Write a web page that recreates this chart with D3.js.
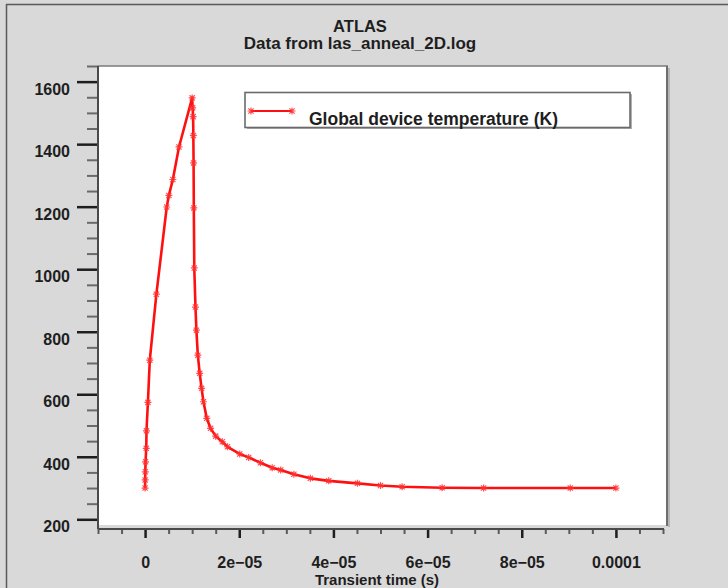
<!DOCTYPE html>
<html>
<head>
<meta charset="utf-8">
<script src="https://cdn.jsdelivr.net/npm/d3@7"></script>
<style>
  html, body { margin: 0; padding: 0; background: #d9d9d9; }
  svg { display: block; }
  text { font-family: "Liberation Sans", Arial, Helvetica, sans-serif; font-weight: bold; fill: #1e1e1e; }
</style>
</head>
<body>
<svg id="chart" width="728" height="588"></svg>
<script>
// Transient time (s) and global device temperature (K) from las_anneal_2D.log
const timeS = [
  0, 2e-8, 5e-8, 1e-7, 2.5e-7, 3e-7, 6e-7, 1e-6, 2.4e-6, 4.6e-6, 5.05e-6, 5.9e-6, 7.2e-6, 1e-5,
  1.01e-5, 1.02e-5, 1.025e-5, 1.03e-5, 1.035e-5, 1.045e-5, 1.07e-5, 1.09e-5, 1.12e-5, 1.16e-5,
  1.2e-5, 1.24e-5, 1.31e-5, 1.39e-5, 1.5e-5, 1.64e-5, 1.75e-5, 2.01e-5, 2.2e-5, 2.45e-5,
  2.7e-5, 2.88e-5, 3.16e-5, 3.51e-5, 3.9e-5, 4.51e-5, 5.0e-5, 5.46e-5, 6.31e-5, 7.19e-5,
  9.03e-5, 1.0e-4
];
const tempK = [
  300, 326, 352, 384, 427, 483, 574, 709, 920, 1199, 1236, 1287, 1391, 1548,
  1516, 1488, 1428, 1340, 1196, 1004, 879, 805, 725, 667,
  619, 576, 523, 491, 466, 448, 432, 409, 398, 381,
  365, 358, 344, 331, 323, 315, 308, 304, 301, 300,
  300, 300
];

const xMajorTicks = [0, 2e-5, 4e-5, 6e-5, 8e-5, 1e-4];
const xTickLabels = ["0", "2e\u221205", "4e\u221205", "6e\u221205", "8e\u221205", "0.0001"];
const yMajorTicks = [200, 400, 600, 800, 1000, 1200, 1400, 1600];
const yTickLabels = ["200", "400", "600", "800", "1000", "1200", "1400", "1600"];

const titleText = "ATLAS";
const subtitleText = "Data from las_anneal_2D.log";
const xAxisTitle = "Transient time (s)";
const seriesName = "Global device temperature (K)";

const svg = d3.select("#chart");
const W = 728, H = 588;
const plot = { left: 98, right: 667, top: 66, bottom: 525, axisY: 529 };

const x = d3.scaleLinear().domain([-1e-5, 1.1e-4]).range([98, 663]);
const y = d3.scaleLinear().domain([200, 1650]).range([519.3, 66]);

// window background and frame
svg.append("rect").attr("width", W).attr("height", H).attr("fill", "#d9d9d9");
svg.append("line").attr("x1", 6).attr("x2", W).attr("y1", 4.5).attr("y2", 4.5)
  .attr("stroke", "#5a5a5a").attr("stroke-width", 1.5);
svg.append("line").attr("x1", 6.5).attr("x2", 6.5).attr("y1", 4).attr("y2", H)
  .attr("stroke", "#5a5a5a").attr("stroke-width", 1.5);

// plotting area
svg.append("rect").attr("x", plot.left).attr("y", plot.top)
  .attr("width", plot.right - plot.left).attr("height", plot.bottom - plot.top)
  .attr("fill", "#ffffff");
svg.append("line").attr("x1", plot.left).attr("x2", plot.right + 1).attr("y1", plot.top).attr("y2", plot.top)
  .attr("stroke", "#7a7a7a").attr("stroke-width", 1.5);
svg.append("line").attr("x1", plot.right).attr("x2", plot.right).attr("y1", plot.top).attr("y2", plot.bottom + 1)
  .attr("stroke", "#6e6e6e").attr("stroke-width", 2);
svg.append("line").attr("x1", plot.right + 2).attr("x2", plot.right + 2).attr("y1", plot.top + 2).attr("y2", plot.bottom + 2)
  .attr("stroke", "#a8a8a8").attr("stroke-width", 1.5);

// titles
svg.append("text").attr("x", 360).attr("y", 32).attr("text-anchor", "middle")
  .style("font-size", "16.5px").text(titleText);
svg.append("text").attr("x", 360).attr("y", 48.5).attr("text-anchor", "middle")
  .style("font-size", "17px").text(subtitleText);

// y axis: minor ticks every 50 K, major every 200 K
const yMinor = d3.range(200, 1651, 50).filter(v => v % 200 !== 0);
const gyMinor = svg.append("g").attr("transform", `translate(${plot.left},0)`)
  .call(d3.axisLeft(y).tickValues(yMinor).tickSize(11).tickFormat(""));
gyMinor.select(".domain").remove();
gyMinor.selectAll(".tick line").attr("stroke", "#6a6a6a").attr("stroke-width", 2);

const gyMajor = svg.append("g").attr("transform", `translate(${plot.left},0)`)
  .call(d3.axisLeft(y).tickValues(yMajorTicks).tickSize(21).tickPadding(7)
    .tickFormat((d, i) => yTickLabels[i]));
gyMajor.select(".domain").remove();
gyMajor.selectAll(".tick line").attr("stroke", "#1e1e1e").attr("stroke-width", 2.5);
gyMajor.selectAll(".tick text").attr("dy", "12.5").style("font-size", "16px");

svg.append("line").attr("x1", plot.left).attr("x2", plot.left).attr("y1", plot.top).attr("y2", plot.axisY)
  .attr("stroke", "#4a4a4a").attr("stroke-width", 2);

// x axis: minor ticks every 5e-6 s, major every 2e-5 s
const xMinor = d3.range(-2, 23).map(k => k * 5e-6).filter((v, i) => (i - 2) % 4 !== 0);
const gxMinor = svg.append("g").attr("transform", `translate(0,${plot.axisY})`)
  .call(d3.axisBottom(x).tickValues(xMinor).tickSize(5).tickFormat(""));
gxMinor.select(".domain").remove();
gxMinor.selectAll(".tick line").attr("stroke", "#5a5a5a").attr("stroke-width", 2);

const gxMajor = svg.append("g").attr("transform", `translate(0,${plot.axisY})`)
  .call(d3.axisBottom(x).tickValues(xMajorTicks).tickSize(9)
    .tickFormat((d, i) => xTickLabels[i]));
gxMajor.select(".domain").remove();
gxMajor.selectAll(".tick line").attr("stroke", "#1e1e1e").attr("stroke-width", 2.5);
gxMajor.selectAll(".tick text").attr("y", 38.5).attr("dy", 0).style("font-size", "16px");

svg.append("line").attr("x1", plot.left).attr("x2", x(1.1e-4) + 1).attr("y1", plot.axisY).attr("y2", plot.axisY)
  .attr("stroke", "#4a4a4a").attr("stroke-width", 2);

svg.selectAll(".tick text").attr("fill", "#1e1e1e").attr("font-family", null).attr("font-size", null);

svg.append("text").attr("x", 377).attr("y", 584.5).attr("text-anchor", "middle")
  .style("font-size", "15px").text(xAxisTitle);

// temperature curve
const pts = timeS.map((t, i) => [t, tempK[i]]);
const line = d3.line().x(d => x(d[0])).y(d => y(d[1]));
svg.append("path").datum(pts).attr("d", line)
  .attr("fill", "none").attr("stroke", "#ff1010").attr("stroke-width", 2.6)
  .attr("stroke-linejoin", "round");

const star = "M-3.5,0H3.5M0,-3.5V3.5M-2.6,-2.6L2.6,2.6M-2.6,2.6L2.6,-2.6";
svg.append("g").selectAll("path").data(pts).join("path")
  .attr("transform", d => `translate(${x(d[0])},${y(d[1])})`)
  .attr("d", star).attr("fill", "none").attr("stroke", "#ff3030")
  .attr("stroke-width", 1.2).attr("opacity", 0.85);

// legend
const lg = svg.append("g");
lg.append("rect").attr("x", 247).attr("y", 94).attr("width", 385).attr("height", 35).attr("fill", "#b0b0b0");
lg.append("rect").attr("x", 245).attr("y", 92.5).attr("width", 385).attr("height", 35)
  .attr("fill", "#ffffff").attr("stroke", "#6a6a6a").attr("stroke-width", 1.6);
lg.append("line").attr("x1", 251).attr("x2", 292).attr("y1", 111).attr("y2", 111)
  .attr("stroke", "#ff1010").attr("stroke-width", 2.2);
lg.selectAll("path.lm").data([251, 292]).join("path").attr("class", "lm")
  .attr("transform", d => `translate(${d},111)`).attr("d", star)
  .attr("fill", "none").attr("stroke", "#ff3030").attr("stroke-width", 1.2).attr("opacity", 0.85);
lg.append("text").attr("x", 309).attr("y", 125).style("font-size", "17.5px").text(seriesName);
</script>
</body>
</html>
